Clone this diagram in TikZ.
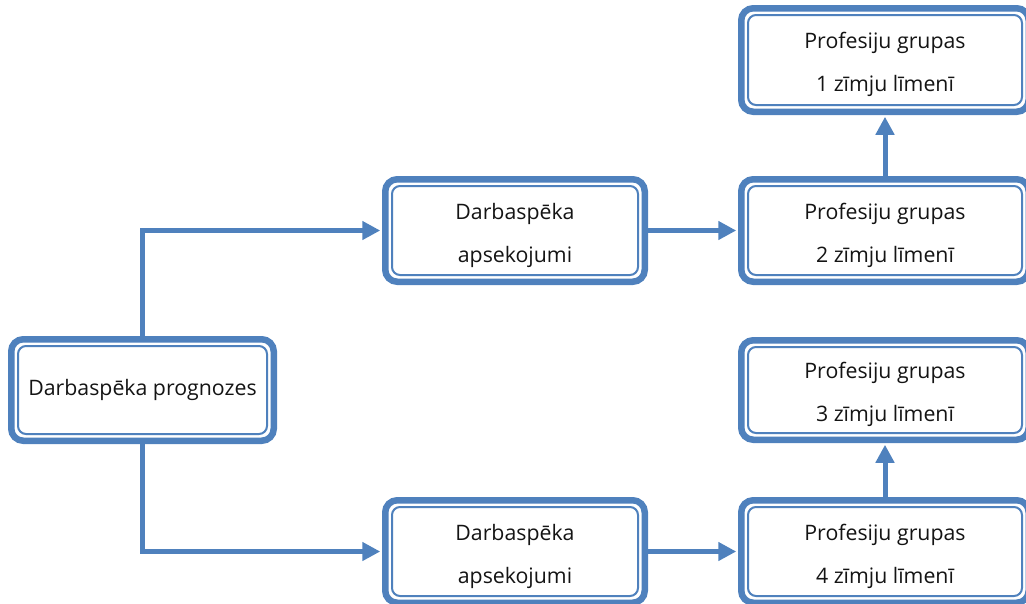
\documentclass[tikz,border=0pt]{standalone}
\usepackage{fontspec}
\setmainfont{Open Sans}
\usetikzlibrary{arrows.meta}
\definecolor{boxblue}{RGB}{79,129,189}
\definecolor{txt}{RGB}{20,20,20}
\begin{document}
\begin{tikzpicture}[x=1pt,y=-1pt]
\tikzset{pbox/.style = {draw=boxblue, line width=6.5pt, rounded corners=12pt, fill=white, outer sep=0pt,
  inner sep=0pt, align=center, text=txt, font=\fontsize{21.3}{43}\selectfont}}
\tikzset{inline/.style = {draw=boxblue, line width=2pt, rounded corners=8pt}}
\tikzset{link/.style = {-{Triangle[length=18pt,width=18pt]}, draw=boxblue, line width=5pt, shorten >=5pt}}
\def \inset {6.75pt}
\def \lift {\rule{0pt}{26pt}}
\useasboundingbox (0,0) rectangle (1026,603);
\node[pbox, minimum width=262.5pt, minimum height=101.5pt](prog) at (142.5,390) {Darbaspēka prognozes};
\node[pbox, minimum width=259.5pt, minimum height=102.5pt](aps1) at (515,230.5) {\lift Darbaspēka\\apsekojumi};
\node[pbox, minimum width=259.5pt, minimum height=102.5pt](aps2) at (515,551.5) {\lift Darbaspēka\\apsekojumi};
\node[pbox, minimum width=287.5pt, minimum height=103.5pt](p1) at (885,60) {\lift Profesiju grupas\\1 zīmju līmenī};
\node[pbox, minimum width=287.5pt, minimum height=102.5pt](p2) at (885,230.5) {\lift Profesiju grupas\\2 zīmju līmenī};
\node[pbox, minimum width=287.5pt, minimum height=99.5pt](p3) at (885,390) {\lift Profesiju grupas\\3 zīmju līmenī};
\node[pbox, minimum width=287.5pt, minimum height=102.5pt](p4) at (885,551.5) {\lift Profesiju grupas\\4 zīmju līmenī};
\foreach \b in {prog,aps1,aps2,p1,p2,p3,p4}
  \draw[inline] ([shift={(\inset,-\inset)}]\b.north west) rectangle ([shift={(-\inset,\inset)}]\b.south east);
\draw[link] (prog.north) |- (aps1.west);
\draw[link] (prog.south) |- (aps2.west);
\draw[link] (aps1) -- (p2);
\draw[link] (aps2) -- (p4);
\draw[link] (p2) -- (p1);
\draw[link] (p4) -- (p3);
\end{tikzpicture}
\end{document}
